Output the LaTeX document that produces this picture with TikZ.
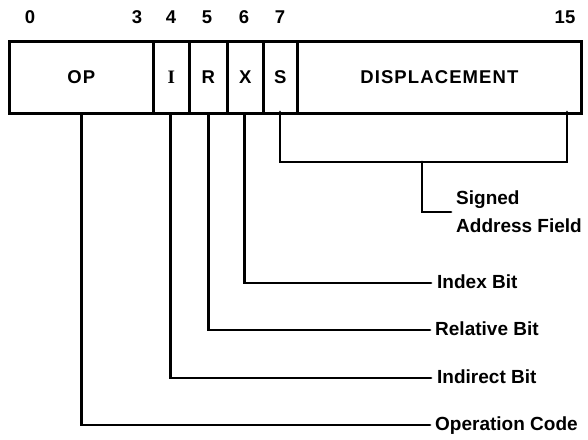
\documentclass[tikz,border=0pt]{standalone}
\usepackage{fontspec}
\setmainfont{Liberation Sans}
\newfontfamily\cellfont{Liberation Sans}[LetterSpace=6]
\newfontfamily\serifI{Liberation Serif}
\begin{document}
\begin{tikzpicture}[x=1pt,y=-1pt,
  cell/.style={draw,line width=2.8pt,minimum height=72pt,inner sep=0pt,anchor=north west,font=\cellfont\fontsize{18.5}{22}\selectfont\bfseries},
  num/.style={font=\fontsize{18.5}{22}\selectfont\bfseries,inner sep=0pt},
  lab/.style={font=\fontsize{19}{28}\selectfont\bfseries,inner sep=0pt,anchor=west,text height=10pt,text depth=0pt,align=left},
  lead/.style={line width=2.8pt,line cap=round}]
\useasboundingbox (0,0) rectangle (588,439);
% header numbers
\node[num] (n0) at (30,17) {0};
\node[num] (n3) at (137,17) {3};
\node[num] (n4) at (171,17) {4};
\node[num] (n5) at (207,17) {5};
\node[num] (n6) at (244,17) {6};
\node[num] (n7) at (280,17) {7};
\node[num] (n15) at (565,17) {15};
% cells
\node[cell,minimum width=144pt] (op) at (8,40) {OP};
\node[cell,minimum width=36pt] (ib) at (152,40) {\serifI\bfseries\fontsize{19}{22}\selectfont I};
\node[cell,minimum width=38pt] (rb) at (188,40) {R};
\node[cell,minimum width=36pt] (xb) at (226,40) {X};
\node[cell,minimum width=34pt] (sb) at (262,40) {S};
\node[cell,minimum width=284pt] (disp) at (296,40) {DISPLACEMENT};
% labels
\node[lab] (xl) at (437,283) {Index Bit};
\node[lab] (rl) at (435,330) {Relative Bit};
\node[lab] (il) at (437,378) {Indirect Bit};
\node[lab] (ol) at (435,425) {Operation Code};
\node[lab,anchor=west,text height=,text depth=] (sl) at (456,212) {Signed\\Address Field};
% bracket
\coordinate (bl) at (280,162);
\coordinate (br) at (567,162);
\coordinate (bm) at (422,162);
\draw[lead] (280,112) -- (bl) -- (br) -- (567,112);
\draw[lead] (bm) |- ([xshift=-5pt]sl.west);
% leaders
\draw[lead] (xb.south) ++(-1,0) |- ([xshift=-6pt]xl.west);
\draw[lead] (rb.south) |- ([xshift=-5pt]rl.west);
\draw[lead] (ib.south) ++(-1,0) |- ([xshift=-6pt]il.west);
\draw[lead] (op.south) |- ([xshift=-5pt]ol.west);
\end{tikzpicture}
\end{document}
